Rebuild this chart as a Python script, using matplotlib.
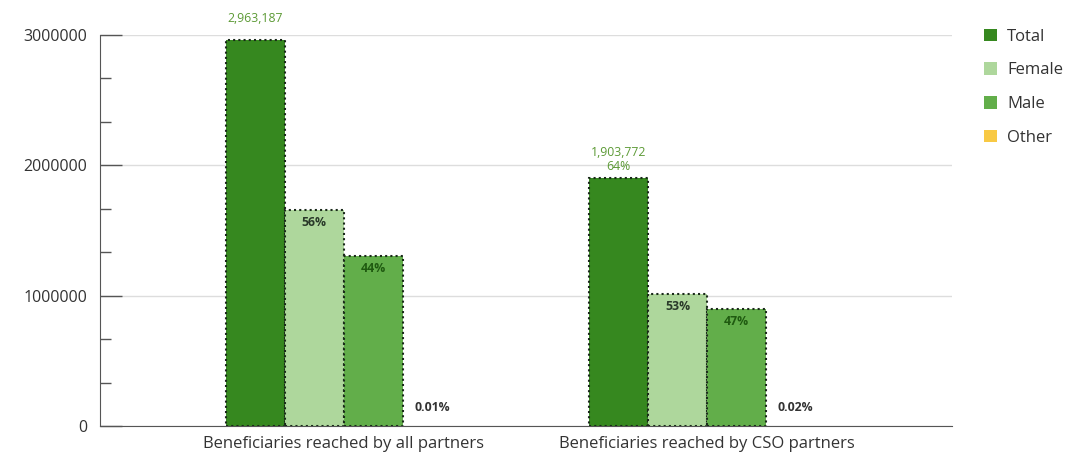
import matplotlib
matplotlib.use("Agg")
import matplotlib.pyplot as plt
from matplotlib.patches import Patch
from matplotlib.ticker import MultipleLocator
import numpy as np

plt.rcParams['font.family'] = ['Open Sans', 'DejaVu Sans']

categories = ["Beneficiaries reached by all partners", "Beneficiaries reached by CSO partners"]
series_names = ["Total", "Female", "Male", "Other"]
total = [2963187, 1903772]
female = [1660000, 1009000]
male = [1303000, 894400]
other = [296, 381]
female_pct = ["56%", "53%"]
male_pct = ["44%", "47%"]
other_pct = ["0.01%", "0.02%"]
total_labels = ["2,963,187", "1,903,772\n64%"]

colors = ["#36881f", "#aed79c", "#62ae4a", "#f8c944"]

fig = plt.figure(figsize=(10.69, 4.59), dpi=100)
ax = fig.add_axes([100/1069, 1-426/459, 852/1069, (426-35)/459])

x = np.arange(len(categories))
w = 0.162
offsets = [-1.5*w, -0.5*w, 0.5*w, 1.5*w]
data = [total, female, male, other]
for vals, off, c, name in zip(data, offsets, colors, series_names):
    ec = "none" if name == "Other" else "#1a2a1a"
    ax.bar(x + off, vals, width=w, color=c, edgecolor=ec, linewidth=1.5,
           linestyle=(0, (1, 1.5)), zorder=3)

total_offsets = [110000, 40000]
for i in range(len(categories)):
    ax.text(x[i] + offsets[0], total[i] + total_offsets[i], total_labels[i], ha="center", va="bottom",
            fontsize=8.8, color="#5c9a35", clip_on=False, linespacing=1.05)
    ax.text(x[i] + offsets[1], female[i] - 45000, female_pct[i], ha="center", va="top",
            fontsize=8.8, color="#2a3a2a", fontweight="bold")
    ax.text(x[i] + offsets[2], male[i] - 45000, male_pct[i], ha="center", va="top",
            fontsize=8.8, color="#1f5a10", fontweight="bold")
    ax.text(x[i] + offsets[3], other[i] + 95000, other_pct[i], ha="center", va="bottom",
            fontsize=8.8, color="#333333", fontweight="bold")

ax.set_ylim(0, 3000000)
ax.set_xlim(-0.671, 1.675)
ax.set_xticks(x)
ax.set_xticklabels(categories, fontsize=12, color="#333333")
ax.tick_params(axis="x", length=0, pad=7)
ax.yaxis.set_minor_locator(MultipleLocator(1000000/3))
ax.set_yticks([0, 1000000, 2000000, 3000000])
ax.set_yticklabels(["0", "1000000", "2000000", "3000000"], fontsize=11.5, color="#333333")
ax.tick_params(axis="y", which="major", direction="in", length=16, width=1, color="#555555", pad=9)
ax.tick_params(axis="y", which="minor", direction="in", length=8, width=1, color="#555555")
ax.grid(axis="y", color="#dddddd", linewidth=1, zorder=0)
for s in ["top", "right"]:
    ax.spines[s].set_visible(False)
ax.spines["left"].set_color("#555555")
ax.spines["bottom"].set_color("#555555")
ax.set_axisbelow(True)

handles = [Patch(facecolor=c, edgecolor="none") for c in colors]
fig.legend(handles, series_names, loc="upper left", bbox_to_anchor=(977/1069, 1-22/459),
           frameon=False, fontsize=12, handlelength=0.8, handleheight=0.8,
           labelspacing=1.05, handletextpad=0.6, labelcolor="#333333", borderaxespad=0)

fig.savefig("out.png", dpi=100)
